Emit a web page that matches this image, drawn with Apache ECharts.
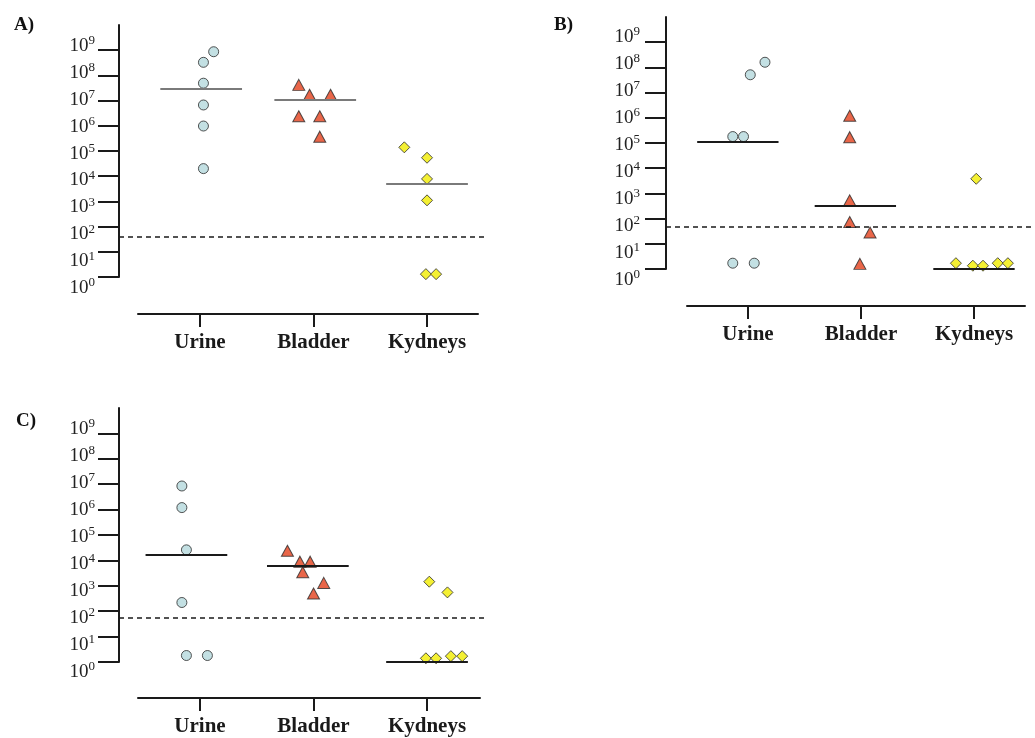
<!DOCTYPE html>
<html><head><meta charset="utf-8">
<script src="https://cdn.jsdelivr.net/npm/echarts@6/dist/echarts.min.js"></script>
<style>html,body{margin:0;padding:0;background:#fff}#c{width:1035px;height:738px}</style>
</head><body><div id="c"></div>
<script>
// ---------- data ----------
const categories = ['Urine', 'Bladder', 'Kydneys'];
const panelLabels = ['A)', 'B)', 'C)'];
const tickExponents = [0, 1, 2, 3, 4, 5, 6, 7, 8, 9];

// Panel A
const urineA = [8.7e8, 3.3e8, 4.9e7, 6.7e6, 9.8e5, 2.0e4];
const urineAx = [0.12, 0.03, 0.03, 0.03, 0.03, 0.03];
const bladderA = [4.2e7, 1.7e7, 1.7e7, 2.4e6, 2.4e6, 3.7e5];
const bladderAx = [-0.13, -0.035, 0.15, -0.13, 0.055, 0.055];
const kidneyA = [1.4e5, 5.4e4, 7.8e3, 1.1e3, 1.3, 1.3];
const kidneyAx = [-0.2, 0.0, 0.0, 0.0, -0.01, 0.08];
const medianA = [2.9e7, 1.1e7, 4.9e3];
const medianAx = [0.01, 0.015, 0.0];
const thresholdA = 39;

// Panel B
const urineB = [1.6e8, 5.1e7, 1.8e5, 1.8e5, 1.7, 1.7];
const urineBx = [0.15, 0.02, -0.135, -0.04, -0.135, 0.055];
const bladderB = [1.2e6, 1.7e5, 5.3e2, 73, 28, 1.6];
const bladderBx = [-0.10, -0.10, -0.10, -0.10, 0.08, -0.01];
const kidneyB = [3.8e3, 1.7, 1.35, 1.35, 1.7, 1.7];
const kidneyBx = [0.02, -0.16, -0.01, 0.08, 0.21, 0.30];
const medianB = [1.15e5, 3.2e2, 1.0];
const medianBx = [-0.09, -0.05, 0.0];
const thresholdB = 48;

// Panel C
const urineC = [8.5e6, 1.2e6, 2.6e4, 2.2e2, 1.8, 1.8];
const urineCx = [-0.16, -0.16, -0.12, -0.16, -0.12, 0.065];
const bladderC = [2.4e4, 8.9e3, 8.9e3, 3.4e3, 1.3e3, 5.0e2];
const bladderCx = [-0.23, -0.12, -0.03, -0.095, 0.09, 0.0];
const kidneyC = [1.45e3, 5.5e2, 1.4, 1.4, 1.7, 1.7];
const kidneyCx = [0.02, 0.18, -0.01, 0.08, 0.21, 0.31];
const medianC = [1.6e4, 6.0e3, 1.0];
const medianCx = [-0.12, -0.05, 0.0];
const thresholdC = 54;

// ---------- layout / styles ----------
const H = 738, W = 1035;
const layouts = [
  { plot: {left:119, right:W-484, top:25, bottom:H-277}, px:[-0.714, 2.502],
    lab: {left:138, right:W-478, top:45, bottom:H-287}, lx:[-0.546, 2.449], xOff:27, lMargin:43,
    medianColor:'#7a7a7a', title:{left:9, top:11} },
  { plot: {left:666, right:0, top:17, bottom:H-269}, px:[-0.726, 2.540],
    lab: {left:687, right:W-1025, top:36, bottom:H-279}, lx:[-0.540, 2.451], xOff:27, lMargin:47,
    medianColor:'#1a1a1a', title:{left:549, top:11} },
  { plot: {left:119, right:W-484, top:408, bottom:H-662}, px:[-0.714, 2.502],
    lab: {left:138, right:W-480, top:428, bottom:H-671}, lx:[-0.546, 2.467], xOff:27, lMargin:43,
    medianColor:'#1a1a1a', title:{left:11, top:407} }
];
const panels = [
  { vals:[urineA, bladderA, kidneyA], xs:[urineAx, bladderAx, kidneyAx], med:medianA, medx:medianAx, thr:thresholdA },
  { vals:[urineB, bladderB, kidneyB], xs:[urineBx, bladderBx, kidneyBx], med:medianB, medx:medianBx, thr:thresholdB },
  { vals:[urineC, bladderC, kidneyC], xs:[urineCx, bladderCx, kidneyCx], med:medianC, medx:medianCx, thr:thresholdC }
];
const symbols = [
  { symbol:'circle', size:10, color:'#b4d8dc' },
  { symbol:'triangle', size:[12,11], color:'#e4401c' },
  { symbol:'diamond', size:[11,11], color:'#f1ec00' }
];
const MED_HALF = 0.36;
const serif = '"Liberation Serif", "DejaVu Serif", serif';

const grid = [], xAxis = [], yAxis = [], series = [], title = [];
layouts.forEach((L, p) => {
  grid.push(Object.assign({containLabel:false}, L.plot));
  grid.push(Object.assign({containLabel:false}, L.lab));
  const gP = 2*p, gL = 2*p+1;
  title.push({ text: panelLabels[p], left: L.title.left, top: L.title.top,
    textStyle:{ fontFamily: serif, fontWeight:'bold', fontSize:19, color:'#111' } });
  // plot axes
  xAxis.push({ gridIndex:gP, type:'value', min:L.px[0], max:L.px[1], show:false });
  yAxis.push({ gridIndex:gP, type:'log', logBase:10, min:1, max:1e10, position:'left',
    axisLine:{ show:true, onZero:false, lineStyle:{ color:'#1a1a1a', width:2 } },
    axisTick:{ show:true, length:21, customValues: tickExponents.map(e => Math.pow(10, e)),
      lineStyle:{ color:'#1a1a1a', width:2 } },
    axisLabel:{ show:false }, splitLine:{ show:false } });
  // label / category axes
  xAxis.push({ gridIndex:gL, type:'value', min:L.lx[0], max:L.lx[1], position:'bottom', offset:L.xOff,
    axisLine:{ show:true, onZero:false, lineStyle:{ color:'#1a1a1a', width:2 } },
    axisTick:{ show:true, length:13, customValues:[0,1,2], lineStyle:{ color:'#1a1a1a', width:2 } },
    axisLabel:{ show:true, customValues:[0,1,2], margin:18, formatter: v => categories[Math.round(v)],
      fontFamily: serif, fontWeight:'bold', fontSize:21, color:'#1a1a1a' },
    splitLine:{ show:false } });
  yAxis.push({ gridIndex:gL, type:'value', min:0, max:9, interval:1, position:'left',
    axisLine:{ show:false, onZero:false }, axisTick:{ show:false }, splitLine:{ show:false },
    axisLabel:{ show:true, margin:L.lMargin, formatter: v => '{b|10}{s|' + v + '}',
      rich:{ b:{ fontFamily:serif, fontSize:19, color:'#222', verticalAlign:'bottom', lineHeight:21 },
             s:{ fontFamily:serif, fontSize:13, color:'#222', verticalAlign:'top', lineHeight:13 } } } });

  const P = panels[p];
  P.vals.forEach((arr, c) => {
    const md = [[{ coord:[c + P.medx[c] - MED_HALF, P.med[c]] }, { coord:[c + P.medx[c] + MED_HALF, P.med[c]] }]];
    if (c === 2) md.push({ yAxis:P.thr, lineStyle:{ type:[5,4], color:'#1a1a1a', width:1.5 } });
    series.push({
      type:'scatter', xAxisIndex:gP, yAxisIndex:gP,
      data: arr.map((v, i) => [c + P.xs[c][i], v]),
      symbol: symbols[c].symbol, symbolSize: symbols[c].size,
      itemStyle:{ color: symbols[c].color, borderColor:'#2a2a2a', borderWidth:1 },
      z: 3,
      markLine:{ silent:true, symbol:'none', label:{ show:false },
        lineStyle:{ color:L.medianColor, width:2, type:'solid' }, data: md }
    });
  });
});

const chart = echarts.init(document.getElementById('c'), null, { renderer:'canvas' });
chart.setOption({ animation:false, backgroundColor:'#ffffff', title, grid, xAxis, yAxis, series });
</script></body></html>
